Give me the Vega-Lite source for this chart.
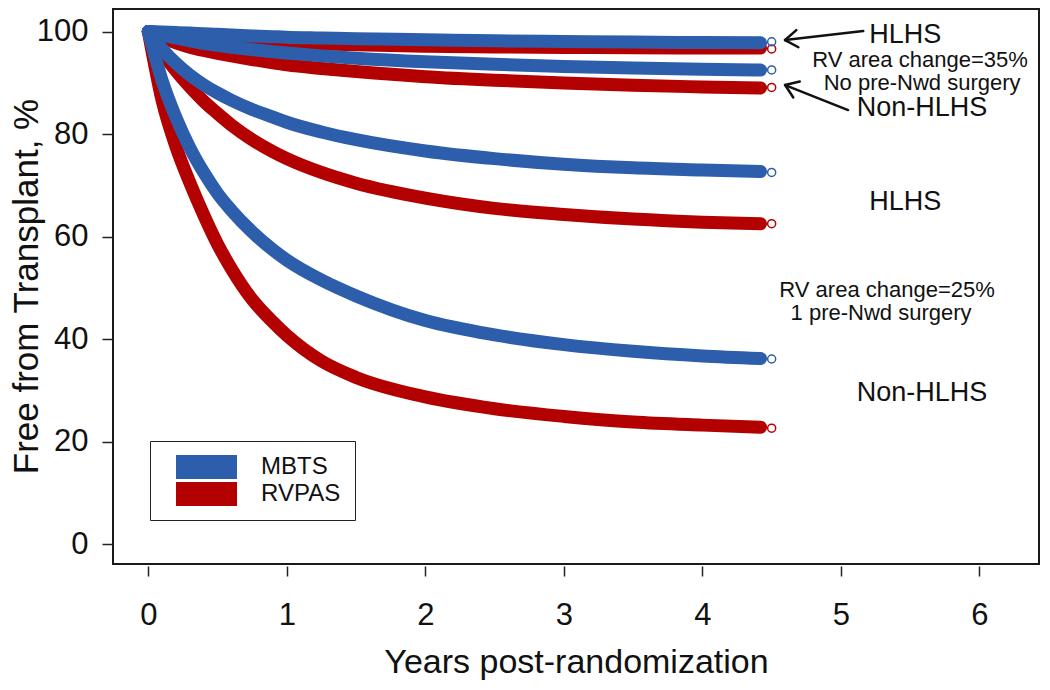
{
  "$schema": "https://vega.github.io/schema/vega-lite/v6.json",
  "width": 926,
  "height": 555,
  "autosize": "none",
  "padding": {"left": 113, "top": 9, "right": 11, "bottom": 126},
  "background": "white",
  "config": {
    "font": "Liberation Sans",
    "view": {"stroke": "#1a1a1a", "strokeWidth": 2},
    "axis": {"grid": false, "domain": false, "tickColor": "#222", "tickWidth": 1.5, "labelColor": "#111", "titleColor": "#111", "labelFont": "Liberation Sans", "titleFont": "Liberation Sans", "titleFontWeight": "normal"}
  },
  "datasets": {
    "curves": [
      {"g": "H35", "arm": "RVPAS", "x": 0, "y": 100}, {"g": "H35", "arm": "RVPAS", "x": 0.1, "y": 99.7}, {"g": "H35", "arm": "RVPAS", "x": 0.2, "y": 99.45}, {"g": "H35", "arm": "RVPAS", "x": 0.3, "y": 99.2}, {"g": "H35", "arm": "RVPAS", "x": 0.4, "y": 98.95}, {"g": "H35", "arm": "RVPAS", "x": 0.5, "y": 98.7}, {"g": "H35", "arm": "RVPAS", "x": 0.6, "y": 98.5}, {"g": "H35", "arm": "RVPAS", "x": 0.75, "y": 98.2}, {"g": "H35", "arm": "RVPAS", "x": 0.9, "y": 97.95}, {"g": "H35", "arm": "RVPAS", "x": 1, "y": 97.8}, {"g": "H35", "arm": "RVPAS", "x": 1.25, "y": 97.6}, {"g": "H35", "arm": "RVPAS", "x": 1.5, "y": 97.4}, {"g": "H35", "arm": "RVPAS", "x": 2, "y": 97.15}, {"g": "H35", "arm": "RVPAS", "x": 2.5, "y": 97.0}, {"g": "H35", "arm": "RVPAS", "x": 3, "y": 96.9}, {"g": "H35", "arm": "RVPAS", "x": 3.5, "y": 96.85}, {"g": "H35", "arm": "RVPAS", "x": 4, "y": 96.8}, {"g": "H35", "arm": "RVPAS", "x": 4.42, "y": 96.8},
      {"g": "N35", "arm": "RVPAS", "x": 0, "y": 100}, {"g": "N35", "arm": "RVPAS", "x": 0.1, "y": 98.8}, {"g": "N35", "arm": "RVPAS", "x": 0.2, "y": 97.8}, {"g": "N35", "arm": "RVPAS", "x": 0.3, "y": 96.95}, {"g": "N35", "arm": "RVPAS", "x": 0.4, "y": 96.3}, {"g": "N35", "arm": "RVPAS", "x": 0.5, "y": 95.75}, {"g": "N35", "arm": "RVPAS", "x": 0.6, "y": 95.25}, {"g": "N35", "arm": "RVPAS", "x": 0.75, "y": 94.55}, {"g": "N35", "arm": "RVPAS", "x": 0.9, "y": 93.9}, {"g": "N35", "arm": "RVPAS", "x": 1, "y": 93.5}, {"g": "N35", "arm": "RVPAS", "x": 1.25, "y": 92.8}, {"g": "N35", "arm": "RVPAS", "x": 1.5, "y": 92.2}, {"g": "N35", "arm": "RVPAS", "x": 2, "y": 91.2}, {"g": "N35", "arm": "RVPAS", "x": 2.5, "y": 90.5}, {"g": "N35", "arm": "RVPAS", "x": 3, "y": 89.95}, {"g": "N35", "arm": "RVPAS", "x": 3.5, "y": 89.5}, {"g": "N35", "arm": "RVPAS", "x": 4, "y": 89.2}, {"g": "N35", "arm": "RVPAS", "x": 4.42, "y": 89.0},
      {"g": "H25", "arm": "RVPAS", "x": 0, "y": 100}, {"g": "H25", "arm": "RVPAS", "x": 0.1, "y": 95.9}, {"g": "H25", "arm": "RVPAS", "x": 0.2, "y": 92.3}, {"g": "H25", "arm": "RVPAS", "x": 0.3, "y": 89.2}, {"g": "H25", "arm": "RVPAS", "x": 0.4, "y": 86.4}, {"g": "H25", "arm": "RVPAS", "x": 0.5, "y": 84.0}, {"g": "H25", "arm": "RVPAS", "x": 0.6, "y": 81.75}, {"g": "H25", "arm": "RVPAS", "x": 0.75, "y": 78.9}, {"g": "H25", "arm": "RVPAS", "x": 0.9, "y": 76.55}, {"g": "H25", "arm": "RVPAS", "x": 1, "y": 75.2}, {"g": "H25", "arm": "RVPAS", "x": 1.25, "y": 72.5}, {"g": "H25", "arm": "RVPAS", "x": 1.5, "y": 70.4}, {"g": "H25", "arm": "RVPAS", "x": 2, "y": 67.5}, {"g": "H25", "arm": "RVPAS", "x": 2.5, "y": 65.5}, {"g": "H25", "arm": "RVPAS", "x": 3, "y": 64.3}, {"g": "H25", "arm": "RVPAS", "x": 3.5, "y": 63.4}, {"g": "H25", "arm": "RVPAS", "x": 4, "y": 62.8}, {"g": "H25", "arm": "RVPAS", "x": 4.42, "y": 62.5},
      {"g": "N25", "arm": "RVPAS", "x": 0, "y": 100}, {"g": "N25", "arm": "RVPAS", "x": 0.1, "y": 86.5}, {"g": "N25", "arm": "RVPAS", "x": 0.2, "y": 77.5}, {"g": "N25", "arm": "RVPAS", "x": 0.3, "y": 70.5}, {"g": "N25", "arm": "RVPAS", "x": 0.4, "y": 64.2}, {"g": "N25", "arm": "RVPAS", "x": 0.5, "y": 58.5}, {"g": "N25", "arm": "RVPAS", "x": 0.6, "y": 53.7}, {"g": "N25", "arm": "RVPAS", "x": 0.75, "y": 47.7}, {"g": "N25", "arm": "RVPAS", "x": 0.9, "y": 43.3}, {"g": "N25", "arm": "RVPAS", "x": 1, "y": 40.7}, {"g": "N25", "arm": "RVPAS", "x": 1.25, "y": 35.7}, {"g": "N25", "arm": "RVPAS", "x": 1.5, "y": 32.5}, {"g": "N25", "arm": "RVPAS", "x": 2, "y": 28.7}, {"g": "N25", "arm": "RVPAS", "x": 2.5, "y": 26.4}, {"g": "N25", "arm": "RVPAS", "x": 3, "y": 24.9}, {"g": "N25", "arm": "RVPAS", "x": 3.5, "y": 23.8}, {"g": "N25", "arm": "RVPAS", "x": 4, "y": 23.2}, {"g": "N25", "arm": "RVPAS", "x": 4.42, "y": 22.8},
      {"g": "H35", "arm": "MBTS", "x": 0, "y": 100}, {"g": "H35", "arm": "MBTS", "x": 0.1, "y": 99.9}, {"g": "H35", "arm": "MBTS", "x": 0.2, "y": 99.8}, {"g": "H35", "arm": "MBTS", "x": 0.3, "y": 99.7}, {"g": "H35", "arm": "MBTS", "x": 0.4, "y": 99.55}, {"g": "H35", "arm": "MBTS", "x": 0.5, "y": 99.45}, {"g": "H35", "arm": "MBTS", "x": 0.6, "y": 99.35}, {"g": "H35", "arm": "MBTS", "x": 0.75, "y": 99.15}, {"g": "H35", "arm": "MBTS", "x": 0.9, "y": 99.0}, {"g": "H35", "arm": "MBTS", "x": 1, "y": 98.9}, {"g": "H35", "arm": "MBTS", "x": 1.25, "y": 98.75}, {"g": "H35", "arm": "MBTS", "x": 1.5, "y": 98.6}, {"g": "H35", "arm": "MBTS", "x": 2, "y": 98.4}, {"g": "H35", "arm": "MBTS", "x": 2.5, "y": 98.2}, {"g": "H35", "arm": "MBTS", "x": 3, "y": 98.05}, {"g": "H35", "arm": "MBTS", "x": 3.5, "y": 97.95}, {"g": "H35", "arm": "MBTS", "x": 4, "y": 97.85}, {"g": "H35", "arm": "MBTS", "x": 4.42, "y": 97.8},
      {"g": "N35", "arm": "MBTS", "x": 0, "y": 100}, {"g": "N35", "arm": "MBTS", "x": 0.1, "y": 99.3}, {"g": "N35", "arm": "MBTS", "x": 0.2, "y": 98.75}, {"g": "N35", "arm": "MBTS", "x": 0.3, "y": 98.2}, {"g": "N35", "arm": "MBTS", "x": 0.4, "y": 97.7}, {"g": "N35", "arm": "MBTS", "x": 0.5, "y": 97.3}, {"g": "N35", "arm": "MBTS", "x": 0.6, "y": 96.95}, {"g": "N35", "arm": "MBTS", "x": 0.75, "y": 96.5}, {"g": "N35", "arm": "MBTS", "x": 0.9, "y": 96.05}, {"g": "N35", "arm": "MBTS", "x": 1, "y": 95.8}, {"g": "N35", "arm": "MBTS", "x": 1.25, "y": 95.25}, {"g": "N35", "arm": "MBTS", "x": 1.5, "y": 94.8}, {"g": "N35", "arm": "MBTS", "x": 2, "y": 94.1}, {"g": "N35", "arm": "MBTS", "x": 2.5, "y": 93.6}, {"g": "N35", "arm": "MBTS", "x": 3, "y": 93.2}, {"g": "N35", "arm": "MBTS", "x": 3.5, "y": 92.9}, {"g": "N35", "arm": "MBTS", "x": 4, "y": 92.65}, {"g": "N35", "arm": "MBTS", "x": 4.42, "y": 92.5},
      {"g": "H25", "arm": "MBTS", "x": 0, "y": 100}, {"g": "H25", "arm": "MBTS", "x": 0.1, "y": 96.6}, {"g": "H25", "arm": "MBTS", "x": 0.2, "y": 93.8}, {"g": "H25", "arm": "MBTS", "x": 0.3, "y": 91.5}, {"g": "H25", "arm": "MBTS", "x": 0.4, "y": 89.6}, {"g": "H25", "arm": "MBTS", "x": 0.5, "y": 88.0}, {"g": "H25", "arm": "MBTS", "x": 0.6, "y": 86.6}, {"g": "H25", "arm": "MBTS", "x": 0.75, "y": 84.8}, {"g": "H25", "arm": "MBTS", "x": 0.9, "y": 83.3}, {"g": "H25", "arm": "MBTS", "x": 1, "y": 82.3}, {"g": "H25", "arm": "MBTS", "x": 1.25, "y": 80.4}, {"g": "H25", "arm": "MBTS", "x": 1.5, "y": 78.9}, {"g": "H25", "arm": "MBTS", "x": 2, "y": 76.7}, {"g": "H25", "arm": "MBTS", "x": 2.5, "y": 75.2}, {"g": "H25", "arm": "MBTS", "x": 3, "y": 74.1}, {"g": "H25", "arm": "MBTS", "x": 3.5, "y": 73.4}, {"g": "H25", "arm": "MBTS", "x": 4, "y": 73.0}, {"g": "H25", "arm": "MBTS", "x": 4.42, "y": 72.7},
      {"g": "N25", "arm": "MBTS", "x": 0, "y": 100}, {"g": "N25", "arm": "MBTS", "x": 0.1, "y": 90.4}, {"g": "N25", "arm": "MBTS", "x": 0.2, "y": 83.2}, {"g": "N25", "arm": "MBTS", "x": 0.3, "y": 77.3}, {"g": "N25", "arm": "MBTS", "x": 0.4, "y": 72.5}, {"g": "N25", "arm": "MBTS", "x": 0.5, "y": 68.4}, {"g": "N25", "arm": "MBTS", "x": 0.6, "y": 65.1}, {"g": "N25", "arm": "MBTS", "x": 0.75, "y": 60.9}, {"g": "N25", "arm": "MBTS", "x": 0.9, "y": 57.4}, {"g": "N25", "arm": "MBTS", "x": 1, "y": 55.4}, {"g": "N25", "arm": "MBTS", "x": 1.25, "y": 51.5}, {"g": "N25", "arm": "MBTS", "x": 1.5, "y": 48.4}, {"g": "N25", "arm": "MBTS", "x": 2, "y": 43.6}, {"g": "N25", "arm": "MBTS", "x": 2.5, "y": 40.8}, {"g": "N25", "arm": "MBTS", "x": 3, "y": 38.9}, {"g": "N25", "arm": "MBTS", "x": 3.5, "y": 37.6}, {"g": "N25", "arm": "MBTS", "x": 4, "y": 36.7}, {"g": "N25", "arm": "MBTS", "x": 4.42, "y": 36.2}
    ],
    "ends": [
      {"g": "H35", "arm": "RVPAS", "x": 4.5, "y": 96.6},
      {"g": "N35", "arm": "RVPAS", "x": 4.5, "y": 89.1},
      {"g": "H25", "arm": "RVPAS", "x": 4.5, "y": 62.5},
      {"g": "N25", "arm": "RVPAS", "x": 4.5, "y": 22.6},
      {"g": "H35", "arm": "MBTS", "x": 4.5, "y": 98.0},
      {"g": "N35", "arm": "MBTS", "x": 4.5, "y": 92.5},
      {"g": "H25", "arm": "MBTS", "x": 4.5, "y": 72.5},
      {"g": "N25", "arm": "MBTS", "x": 4.5, "y": 36.1}
    ],
    "notes": [
      {"label": "HLHS", "kind": "big", "x": 5.464, "y": 99.3},
      {"label": "RV area change=35%", "kind": "small", "x": 5.571, "y": 94.4},
      {"label": "No pre-Nwd surgery", "kind": "small", "x": 5.586, "y": 89.95},
      {"label": "Non-HLHS", "kind": "big", "x": 5.586, "y": 85.07},
      {"label": "HLHS", "kind": "big", "x": 5.464, "y": 66.7},
      {"label": "RV area change=25%", "kind": "small", "x": 5.333, "y": 49.6},
      {"label": "1 pre-Nwd surgery", "kind": "small", "x": 5.29, "y": 45.1},
      {"label": "Non-HLHS", "kind": "big", "x": 5.586, "y": 29.5}
    ],
    "arrows": [
      {"x": 5.161, "y": 100.1, "x2": 4.597, "y2": 98.34},
      {"x": 4.597, "y": 98.34, "x2": 4.693, "y2": 96.94},
      {"x": 4.597, "y": 98.34, "x2": 4.678, "y2": 100.29},
      {"x": 5.052, "y": 84.68, "x2": 4.597, "y2": 89.56},
      {"x": 4.597, "y": 89.56, "x2": 4.656, "y2": 87.12},
      {"x": 4.597, "y": 89.56, "x2": 4.703, "y2": 90.24}
    ]
  },
  "layer": [
    {
      "data": {"name": "curves"},
      "mark": {"type": "line", "strokeWidth": 13, "strokeCap": "round", "strokeJoin": "round", "interpolate": "monotone"},
      "encoding": {
        "x": {"field": "x", "type": "quantitative", "scale": {"domain": [-0.255, 6.43], "nice": false, "zero": false},
          "axis": {"values": [0, 1, 2, 3, 4, 5, 6], "format": "d", "title": "Years post-randomization", "tickSize": 10, "offset": 2, "labelFontSize": 31, "labelBaseline": "alphabetic", "labelPadding": 48, "titleFontSize": 34, "titleBaseline": "alphabetic", "titleY": 106}},
        "y": {"field": "y", "type": "quantitative", "scale": {"domain": [-3.9, 104.4], "nice": false, "zero": false},
          "axis": {"values": [0, 20, 40, 60, 80, 100], "format": "d", "title": "Free from Transplant, %", "tickSize": 11, "labelFontSize": 31, "labelPadding": 14, "labelBaseline": "middle", "titleFontSize": 35, "titleAngle": 270, "titleBaseline": "alphabetic", "titleAlign": "center", "titleX": -76, "titleY": 277}},
        "color": {"field": "arm", "type": "nominal", "scale": {"domain": ["MBTS", "RVPAS"], "range": ["#2d5eab", "#b30000"]},
          "legend": {"title": null, "orient": "none", "legendX": 37, "legendY": 432, "padding": 14, "strokeColor": "#222", "fillColor": "white",
            "symbolType": "M-1,-0.393H1V0.393H-1Z", "symbolSize": 3721, "symbolStrokeWidth": 0, "symbolOffset": 12, "labelOffset": 24, "rowPadding": 3, "clipHeight": 24,
            "labelFontSize": 24, "labelFont": "Liberation Sans", "labelColor": "#111",
            "encode": {"symbols": {"update": {"fill": {"scale": "color", "field": "value"}, "fillOpacity": {"value": 1}, "strokeWidth": {"value": 0}}}}}},
        "detail": {"field": "g", "type": "nominal"}
      }
    },
    {
      "data": {"name": "ends"},
      "mark": {"type": "point", "shape": "circle", "filled": false, "size": 64, "strokeWidth": 1.5, "opacity": 1},
      "encoding": {
        "x": {"field": "x", "type": "quantitative", "scale": {"domain": [-0.255, 6.43], "nice": false, "zero": false}},
        "y": {"field": "y", "type": "quantitative", "scale": {"domain": [-3.9, 104.4], "nice": false, "zero": false}},
        "color": {"field": "arm", "type": "nominal", "legend": null}
      }
    },
    {
      "data": {"name": "arrows"},
      "mark": {"type": "rule", "color": "#111", "strokeWidth": 2.5, "strokeCap": "round"},
      "encoding": {
        "x": {"field": "x", "type": "quantitative"},
        "y": {"field": "y", "type": "quantitative"},
        "x2": {"field": "x2"},
        "y2": {"field": "y2"}
      }
    },
    {
      "data": {"name": "notes"},
      "transform": [{"filter": "datum.kind === 'big'"}],
      "mark": {"type": "text", "fontSize": 27, "font": "Liberation Sans", "color": "#111", "align": "center", "baseline": "middle"},
      "encoding": {
        "x": {"field": "x", "type": "quantitative"},
        "y": {"field": "y", "type": "quantitative"},
        "text": {"field": "label"}
      }
    },
    {
      "data": {"name": "notes"},
      "transform": [{"filter": "datum.kind === 'small'"}],
      "mark": {"type": "text", "fontSize": 22, "font": "Liberation Sans", "color": "#111", "align": "center", "baseline": "middle"},
      "encoding": {
        "x": {"field": "x", "type": "quantitative"},
        "y": {"field": "y", "type": "quantitative"},
        "text": {"field": "label"}
      }
    }
  ]
}
